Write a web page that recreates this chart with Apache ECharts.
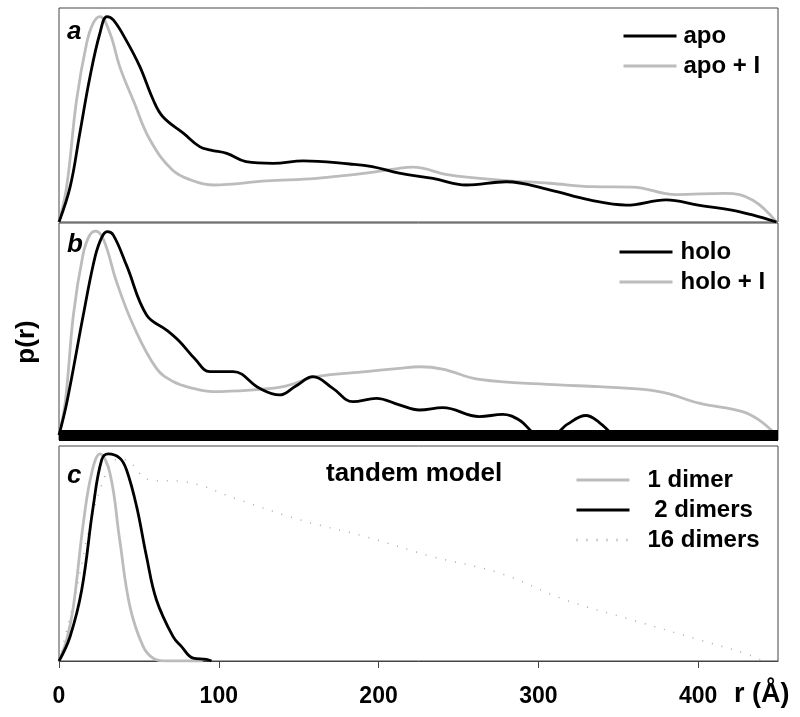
<!DOCTYPE html>
<html>
<head>
<meta charset="utf-8">
<script src="https://cdn.jsdelivr.net/npm/echarts@6/dist/echarts.min.js"></script>
<style>
  html, body { margin: 0; padding: 0; background: #fff; }
  #chart { width: 800px; height: 717px; }
</style>
</head>
<body>
<div id="chart"></div>
<script>
// p(r) curves, [r (Å), relative p(r)]
const apo = [[0,0],[7,0.165],[13,0.414],[19.4,0.679],[25.6,0.882],[30,0.96],[34,0.944],[42,0.85],[50.6,0.726],[59,0.57],[65,0.492],[78,0.414],[88,0.352],[95,0.336],[105,0.321],[117,0.282],[134,0.274],[153,0.286],[182,0.271],[196,0.259],[213,0.228],[234,0.204],[255,0.173],[280,0.188],[307,0.15],[332,0.103],[355,0.079],[380,0.103],[400,0.079],[421,0.056],[434,0.033],[449,0]];
const apoI = [[0,0],[4.8,0.165],[11,0.57],[17.3,0.835],[21.4,0.929],[25.6,0.96],[31.9,0.882],[38,0.726],[46.4,0.57],[57,0.383],[71,0.243],[83,0.195],[96.5,0.173],[130,0.192],[161,0.204],[192,0.228],[213,0.251],[221.5,0.256],[244,0.22],[276,0.196],[307,0.181],[334,0.165],[359,0.163],[386,0.128],[417,0.134],[434,0.103],[449,0]];
const holo = [[0,0],[5,0.157],[15.2,0.566],[21.4,0.802],[25.6,0.912],[30.2,0.959],[34,0.943],[42.3,0.8],[54.8,0.566],[67.3,0.495],[75.6,0.44],[85,0.36],[94.4,0.299],[109,0.299],[125.6,0.22],[138,0.189],[148,0.23],[159,0.275],[171.4,0.22],[184,0.157],[198.6,0.173],[213,0.142],[225.6,0.118],[240.2,0.129],[263.1,0.087],[277.7,0.097],[288,0.071],[300.6,0],[309,0],[318,0.05],[329.8,0.092],[338,0.06],[346.4,0]];
const holoI = [[0,0],[4,0.16],[9,0.566],[15,0.85],[19,0.94],[22.9,0.962],[28,0.92],[36,0.723],[46.4,0.519],[61,0.314],[71.4,0.252],[84,0.22],[96.4,0.205],[119.4,0.212],[140.2,0.228],[161,0.275],[192.3,0.299],[213,0.314],[225.6,0.322],[240,0.311],[263,0.262],[313,0.236],[338,0.228],[375.6,0.205],[400.6,0.15],[427.7,0.11],[438,0.071],[449,0]];
const dimer1 = [[0,0],[4.8,0.098],[9,0.253],[15.2,0.64],[20.4,0.873],[25.6,0.963],[31.9,0.873],[38,0.563],[44.4,0.253],[52.7,0.067],[59,0.013],[67,0],[90,0]];
const dimer2 = [[0,0],[6.9,0.113],[14.2,0.33],[21.4,0.718],[26.7,0.935],[30.8,0.963],[38.1,0.943],[42.3,0.888],[48.6,0.718],[54.8,0.485],[61,0.284],[71.4,0.113],[76.7,0.067],[84,0.013],[92.3,0.008],[95.4,0]];
const dimer16 = [[0,0],[10,0.3],[20,0.65],[30,0.88],[37,0.94],[42,0.935],[57,0.842],[78,0.834],[113,0.749],[151,0.656],[192,0.578],[234,0.485],[276,0.408],[317,0.284],[359,0.19],[401,0.098],[432,0.028],[440,0]];
const rTicks = [0, 100, 200, 300, 400];

const FONT = '"Liberation Sans", Arial, sans-serif';
const GRAY = '#bcbcbc';
const FRAME = '#444';

const chart = echarts.init(document.getElementById('chart'));

function curve(name, data, grid, color, extra) {
  return Object.assign({
    name: name,
    type: 'line',
    xAxisIndex: grid,
    yAxisIndex: grid,
    data: data,
    smooth: 0.4,
    symbol: 'none',
    lineStyle: { color: color, width: 2.8 },
    itemStyle: { color: color },
    animation: false
  }, extra || {});
}

function legendAt(names, left, top, gap) {
  return {
    data: names,
    orient: 'vertical',
    left: left,
    top: top,
    itemWidth: 53,
    itemHeight: 14,
    itemGap: 6,
    itemStyle: { opacity: 0 },
    lineStyle: { width: 3 },
    textStyle: {
      fontFamily: FONT, fontSize: 24, fontWeight: 'bold', color: '#000',
      lineHeight: 24, padding: [0, 0, 0, gap]
    }
  };
}

const frameGrid = { left: 59, width: 719, show: true, borderColor: FRAME, borderWidth: 1, backgroundColor: 'transparent' };

const option = {
  backgroundColor: '#fff',
  animation: false,
  grid: [
    Object.assign({ top: 8, height: 214 }, frameGrid),
    Object.assign({ top: 223, height: 217 }, frameGrid),
    Object.assign({ top: 446, height: 215 }, frameGrid)
  ],
  xAxis: [
    { gridIndex: 0, type: 'value', min: 0, max: 450, show: false },
    { gridIndex: 1, type: 'value', min: 0, max: 450, z: 5,
      axisLine: { show: true, lineStyle: { color: '#000', width: 11, cap: 'butt' } },
      axisTick: { show: false }, axisLabel: { show: false }, splitLine: { show: false } },
    { gridIndex: 2, type: 'value', min: 0, max: 450,
      axisLine: { show: true, lineStyle: { color: FRAME, width: 1 } },
      axisTick: { show: true, length: 7, lineStyle: { color: FRAME }, customValues: rTicks },
      axisLabel: { customValues: rTicks, margin: 24, fontFamily: FONT, fontSize: 23, fontWeight: 'bold', color: '#000' },
      splitLine: { show: false } }
  ],
  yAxis: [
    { gridIndex: 0, type: 'value', min: 0, max: 1, show: false },
    { gridIndex: 1, type: 'value', min: -0.0236, max: 1, show: false },
    { gridIndex: 2, type: 'value', min: 0, max: 1, show: false }
  ],
  legend: [
    legendAt(['apo', 'apo + I'], 617, 19, 2),
    legendAt(['holo', 'holo + I'], 613, 235, 3),
    Object.assign(legendAt(['1 dimer', '2 dimers', '16 dimers'], 570, 463, 13), {
      formatter: function (n) { return n === '2 dimers' ? ' 2 dimers' : n; }
    })
  ],
  series: [
    curve('apo + I', apoI, 0, GRAY),
    curve('apo', apo, 0, '#000'),
    curve('holo + I', holoI, 1, GRAY),
    curve('holo', holo, 1, '#000'),
    curve('16 dimers', dimer16, 2, '#aaa', { lineStyle: { color: '#aaa', width: 1.5, type: [1, 9] } }),
    curve('1 dimer', dimer1, 2, GRAY),
    curve('2 dimers', dimer2, 2, '#000')
  ],
  graphic: [
    { type: 'text', left: 67, top: 19, style: { text: 'a', font: 'italic bold 26px ' + FONT, fill: '#000' } },
    { type: 'text', left: 67, top: 232, style: { text: 'b', font: 'italic bold 26px ' + FONT, fill: '#000' } },
    { type: 'text', left: 67, top: 463, style: { text: 'c', font: 'italic bold 26px ' + FONT, fill: '#000' } },
    { type: 'text', left: 326, top: 461, style: { text: 'tandem model', font: 'bold 26px ' + FONT, fill: '#000' } },
    { type: 'text', left: 734, top: 681, style: { text: 'r (Å)', font: 'bold 27px ' + FONT, fill: '#000' } },
    { type: 'text', x: 27, y: 342, rotation: Math.PI / 2,
      style: { text: 'p(r)', font: 'bold 26px ' + FONT, fill: '#000', align: 'center', verticalAlign: 'middle' } }
  ]
};

chart.setOption(option);
</script>
</body>
</html>
